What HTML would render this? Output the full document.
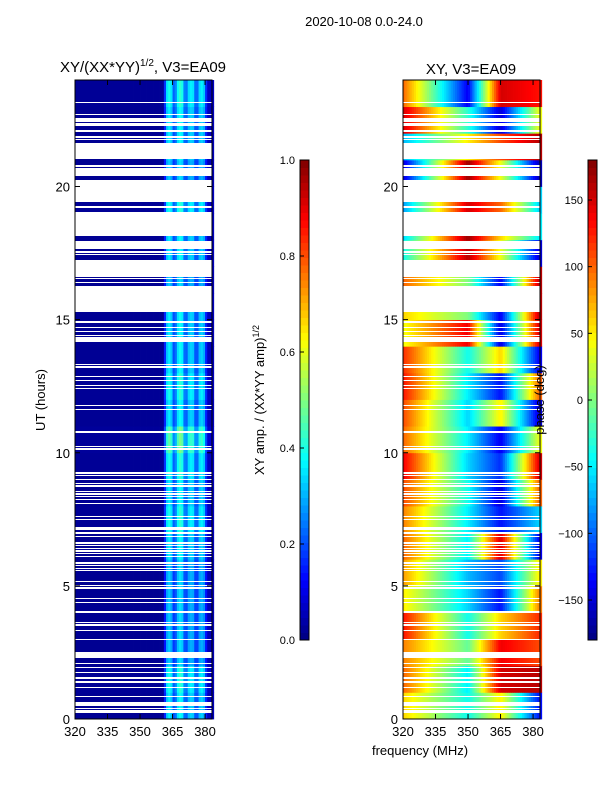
<!DOCTYPE html>
<html><head><meta charset="utf-8">
<style>
body{margin:0;background:#fff;}
svg{display:block;font-family:"Liberation Sans","DejaVu Sans",sans-serif;}
</style></head>
<body>
<svg id="fig" width="600" height="800" viewBox="0 0 600 800" xmlns="http://www.w3.org/2000/svg">
<rect width="600" height="800" fill="#fff"/>
<text x="364" y="26" font-size="13" text-anchor="middle">2020-10-08 0.0-24.0</text>
<text x="143" y="72" font-size="15" text-anchor="middle">XY/(XX*YY)<tspan font-size="10" dy="-6">1/2</tspan><tspan dy="6">, V3=EA09</tspan></text>
<text x="471" y="74" font-size="15" text-anchor="middle">XY, V3=EA09</text>
<g id="ampPanel"></g>
<g id="phasePanel"></g>
<g id="axes"></g>
<text transform="translate(45,400) rotate(-90)" font-size="13" text-anchor="middle">UT (hours)</text>
<text x="420" y="755" font-size="13" text-anchor="middle">frequency (MHz)</text>
<text transform="translate(264,400) rotate(-90)" font-size="13" text-anchor="middle">XY amp. / (XX*YY amp)<tspan font-size="9" dy="-5">1/2</tspan></text>
<text transform="translate(544,400) rotate(-90)" font-size="13" text-anchor="middle">phase (deg)</text>
</svg>
<script>
// ---- data ----
const hours = [0,1,2,3,4,5,6,7,8,9,10,11,12,13,14,15,16,17,18,19,20,21,22,23];
const ampChanFreq = [320,361,362,364,366,367,369,370,371,372,374,375,376,377,379,380,381,383];
const ampChanVal  = [0.02,0.02,0.3,0.38,0.14,0.33,0.4,0.32,0.14,0.3,0.34,0.3,0.12,0.3,0.34,0.25,0.06,0.06];
const ampHourScale = [1.0,1.1,0.9,0.9,0.9,0.9,1.0,1.1,1.0,1.1,1.3,1.0,1.1,1.0,1.0,1.0,0.9,1.0,1.0,1.1,0.9,1.0,1.0,1.1];
const phaseFreq = [320,350,365,383];
const phaseAt320 = [60,100,90,130,50,80,100,90,110,140,100,110,130,120,40,60,100,-40,-60,-80,-150,-70,150,100];
const phaseAt350 = [-40,-50,-10,-40,-60,-70,-50,-50,-40,-60,-50,-60,-50,-40,140,0,0,160,170,150,170,50,-30,-140];
const phaseAt365 = [50,150,140,60,-130,-110,150,-130,-150,-120,-140,50,-130,60,-150,-140,-140,40,60,100,40,110,-150,150];
const phaseAt383 = [-130,160,110,120,90,50,-140,-60,100,150,40,-150,100,-140,150,160,160,-150,-50,-60,-160,160,40,130];
const flagged = [[23.12,23.16],[22.70,22.74],[22.42,22.57],[22.34,22.38],[22.29,22.33],[22.10,22.14],[22.03,22.07],[21.84,21.88],[21.73,21.77],[21.61,21.65],[21.03,21.6],[20.75,20.79],[20.39,20.69],[19.42,20.24],[19.21,19.25],[18.14,19.04],[17.65,17.95],[17.52,17.56],[17.41,17.45],[16.6,17.24],[16.51,16.55],[16.39,16.43],[15.29,16.26],[14.89,14.93],[14.67,14.71],[14.52,14.56],[14.4,14.44],[14.16,14.35],[13.31,13.35],[13.2,13.24],[12.83,12.87],[12.71,12.75],[12.52,12.56],[12.41,12.45],[11.74,11.78],[11.59,11.63],[10.76,10.8],[10.23,10.27],[10.12,10.16],[9.2,9.28],[9.11,9.15],[8.96,9.0],[8.84,8.88],[8.73,8.77],[8.53,8.56],[8.43,8.47],[8.32,8.36],[8.24,8.28],[8.09,8.13],[7.57,7.61],[7.49,7.53],[7.1,7.21],[7.0,7.04],[6.93,6.97],[6.82,6.86],[6.59,6.63],[6.48,6.52],[6.4,6.44],[6.29,6.33],[6.21,6.25],[6.1,6.14],[5.84,5.88],[5.73,5.77],[5.65,5.69],[5.54,5.58],[5.13,5.17],[5.01,5.05],[4.9,4.94],[4.5,4.54],[4.34,4.38],[4.0,4.04],[3.62,3.66],[3.51,3.55],[3.32,3.36],[2.96,3.0],[2.29,2.52],[2.08,2.12],[1.93,1.97],[1.71,1.75],[1.52,1.56],[1.37,1.41],[1.16,1.21],[0.84,0.88],[0.49,0.64],[0.39,0.43],[0.28,0.32],[0.21,0.25]];
const xTicks = [320,335,350,365,380];
const yTicks = [0,5,10,15,20];
const ampTicks = [0.0,0.2,0.4,0.6,0.8,1.0];
const phaseTicks = [-150,-100,-50,0,50,100,150];

// ---- helpers ----
const NS='http://www.w3.org/2000/svg';
function mk(tag,attrs,parent){const e=document.createElementNS(NS,tag);for(const k in attrs)e.setAttribute(k,attrs[k]);parent.appendChild(e);return e;}
function jet(v){v=Math.max(0,Math.min(1,v));
 const r=Math.max(0,Math.min(1,1.5-Math.abs(4*v-3))),g=Math.max(0,Math.min(1,1.5-Math.abs(4*v-2))),b=Math.max(0,Math.min(1,1.5-Math.abs(4*v-1)));
 return `rgb(${Math.round(r*255)},${Math.round(g*255)},${Math.round(b*255)})`;}
function interp(xs,ys,x){if(x<=xs[0])return ys[0];for(let i=1;i<xs.length;i++){if(x<=xs[i]){const t=(x-xs[i-1])/(xs[i]-xs[i-1]);return ys[i-1]+t*(ys[i]-ys[i-1]);}}return ys[ys.length-1];}
const FMIN=320,FMAX=383.2,TMIN=0,TMAX=24,TOP=80,BOT=719;
function panelX(x0,x1){return f=>x0+(f-FMIN)/(FMAX-FMIN)*(x1-x0);}
const yS=h=>BOT-(h-TMIN)/(TMAX-TMIN)*(BOT-TOP);
const LX=panelX(75,212),RX=panelX(403,540);

// ---- amplitude panel ----
const amp=document.getElementById('ampPanel');
hours.forEach((h,i)=>{for(let f=FMIN;f<FMAX;f+=1){
 const v=interp(ampChanFreq,ampChanVal,f+0.5)*ampHourScale[i];
 const r=mk('rect',{x:LX(f),y:yS(h+1),width:LX(f+1)-LX(f)+0.4,height:yS(h)-yS(h+1)+0.4,fill:jet(v)},amp);
 
 
}});
// ---- phase panel ----
const ph=document.getElementById('phasePanel');
hours.forEach((h,i)=>{const ys=[phaseAt320[i],phaseAt350[i],phaseAt365[i],phaseAt383[i]];
 for(let f=FMIN;f<FMAX;f+=1){
 const v=interp(phaseFreq,ys,f+0.5);
 const r=mk('rect',{x:RX(f),y:yS(h+1),width:RX(f+1)-RX(f)+0.4,height:yS(h)-yS(h+1)+0.4,fill:jet((v+180)/360)},ph);
 
 
}});
// flagged rows
[[amp,75,212],[ph,403,540]].forEach(([g,x0,x1])=>{flagged.forEach(([a,b])=>{
 const yt=Math.round(yS(b)),h=Math.max(1,Math.round(yS(a))-yt);
 const r=mk('rect',{x:x0,y:yt,width:x1-x0,height:h,fill:'#fff','shape-rendering':'crispEdges'},g);
 
 
});});

// ---- axes ----
const ax=document.getElementById('axes');
[[75,212,LX],[403,540,RX]].forEach(([x0,x1,xs])=>{
 const fr=mk('rect',{x:x0,y:TOP,width:x1-x0,height:BOT-TOP,fill:'none',stroke:'#000','stroke-width':1},ax);
 
 
 xTicks.forEach(t=>{const x=xs(t);
  mk('line',{x1:x,y1:BOT,x2:x,y2:BOT-5,stroke:'#000'},ax);mk('line',{x1:x,y1:TOP,x2:x,y2:TOP+5,stroke:'#000'},ax);
  const tx=mk('text',{x:x,y:BOT+17,'font-size':13,'text-anchor':'middle'},ax);tx.textContent=t;
  
  
 });
 yTicks.forEach(t=>{const y=yS(t);
  mk('line',{x1:x0,y1:y,x2:x0+5,y2:y,stroke:'#000'},ax);mk('line',{x1:x1,y1:y,x2:x1-5,y2:y,stroke:'#000'},ax);
  const tx=mk('text',{x:x0-5,y:y+5,'font-size':13,'text-anchor':'end'},ax);tx.textContent=t;
  
  
 });
});
// ---- colorbars ----
function colorbar(x,lo,hi,ticks,name){
 const g=mk('g',{},ax);
 
 
 const n=64,top=160,bot=640;
 for(let i=0;i<n;i++){mk('rect',{x:x,y:bot-(i+1)*(bot-top)/n,width:9,height:(bot-top)/n+0.5,fill:jet((i+0.5)/n)},g);}
 mk('rect',{x:x,y:top,width:9,height:bot-top,fill:'none',stroke:'#000'},g);
 ticks.forEach(t=>{const y=bot-(t-lo)/(hi-lo)*(bot-top);
  mk('line',{x1:x,y1:y,x2:x+4,y2:y,stroke:'#000'},g);
  const tx=mk('text',{x:x-5,y:y+4,'font-size':11,'text-anchor':'end'},g);tx.textContent=(name==='amp-colorbar')?t.toFixed(1):(t<0?'\u2212'+(-t):t);
  
  
 });
}
colorbar(300,0,1,ampTicks,'amp-colorbar');
colorbar(588,-180,180,phaseTicks,'phase-colorbar');
</script>
</body></html>
